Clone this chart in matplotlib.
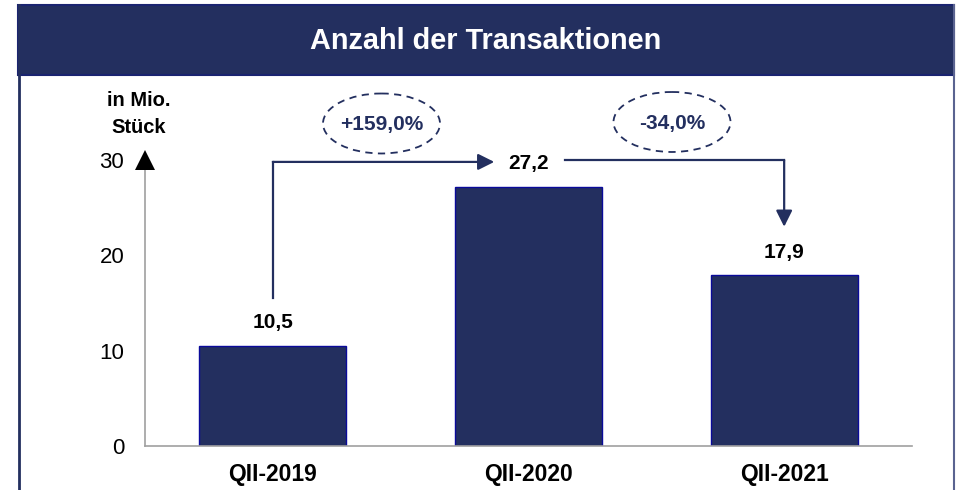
import matplotlib.pyplot as plt
from matplotlib.patches import Ellipse, Rectangle

# ---------------- data ---------------- #
quarters = ['QII-2019', 'QII-2020', 'QII-2021']
transactions = [10.5, 27.2, 17.9]
value_labels = ['10,5', '27,2', '17,9']
change_labels = ['+159,0%', '-34,0%']
y_ticks = [0, 10, 20, 30]

navy = '#232f5f'
plt.rcParams['font.family'] = ['Liberation Sans', 'DejaVu Sans']

fig = plt.figure(figsize=(9.59, 4.90), dpi=100)

# overlay in pixel coordinates for the frame and decorations
deco = fig.add_axes([0, 0, 1, 1])
deco.set_xlim(0, 959)
deco.set_ylim(490, 0)
deco.axis('off')
deco.add_patch(Rectangle((18, 5), 936, 70, facecolor=navy, edgecolor='#1a2470', lw=1.5))
deco.plot([18.5, 18.5], [5, 490], color=navy, lw=2)
deco.plot([954, 954], [5, 490], color='#5a6390', lw=1.5)
deco.text(486, 41, 'Anzahl der Transaktionen', color='white', fontsize=20.8,
          fontweight='bold', ha='center', va='center')
deco.text(139, 100, 'in Mio.', fontsize=14.5, fontweight='bold', ha='center', va='center')
deco.text(139, 127, 'Stück', fontsize=14.5, fontweight='bold', ha='center', va='center')

# dashed ellipses with growth rates
for (cx, cy), lab in zip([(381.5, 123.5), (672, 122)], change_labels):
    deco.add_patch(Ellipse((cx, cy), 117, 60, fill=False, edgecolor=navy,
                           lw=1.3, linestyle=(0, (4, 3))))
    deco.text(cx, cy + 1, lab, color=navy, fontsize=15, fontweight='bold',
              ha='center', va='center')

# ---------------- main chart ---------------- #
ax = fig.add_axes([145 / 959, 44 / 490, 767 / 959, 286 / 490])
x = range(len(quarters))
ax.bar(x, transactions, width=0.575, color=navy, edgecolor='#0a0a9a', linewidth=1)
ax.set_xlim(-0.5, 2.5)
ax.set_ylim(0, 30)

for s in ['top', 'right']:
    ax.spines[s].set_visible(False)
for s in ['left', 'bottom']:
    ax.spines[s].set_color('#a0a0a0')
    ax.spines[s].set_linewidth(1.2)

ax.set_yticks(y_ticks)
ax.set_yticklabels([str(v) for v in y_ticks], fontsize=16)
ax.set_xticks(list(x))
ax.set_xticklabels(quarters, fontsize=16.5, fontweight='bold')
ax.tick_params(axis='y', length=0, pad=15)
ax.tick_params(axis='x', length=0, pad=12)

# arrowhead at top of y axis
ax.plot([-0.5], [30], marker='^', color='black', markersize=15, clip_on=False,
        zorder=5, markeredgewidth=0)

for xi, v, lab in zip(x, transactions, value_labels):
    ax.annotate(lab, (xi, v), xytext=(0, 16.5), textcoords='offset points',
                ha='center', va='center', fontsize=15, fontweight='bold')

# elbow arrows between bars
arrow = dict(arrowstyle='-|>,head_length=0.7,head_width=0.35', color=navy,
             lw=1.6, mutation_scale=14, shrinkA=0, shrinkB=0)
ax.plot([0, 0], [15.5, 29.8], color=navy, lw=1.6, clip_on=False)
ax.annotate('', xy=(0.866, 29.8), xytext=(0, 29.8), arrowprops=arrow,
            annotation_clip=False)
ax.plot([1.144, 2], [30, 30], color=navy, lw=1.6, clip_on=False)
ax.annotate('', xy=(2, 23.0), xytext=(2, 30), arrowprops=arrow,
            annotation_clip=False)

fig.savefig('out.png', dpi=100)
